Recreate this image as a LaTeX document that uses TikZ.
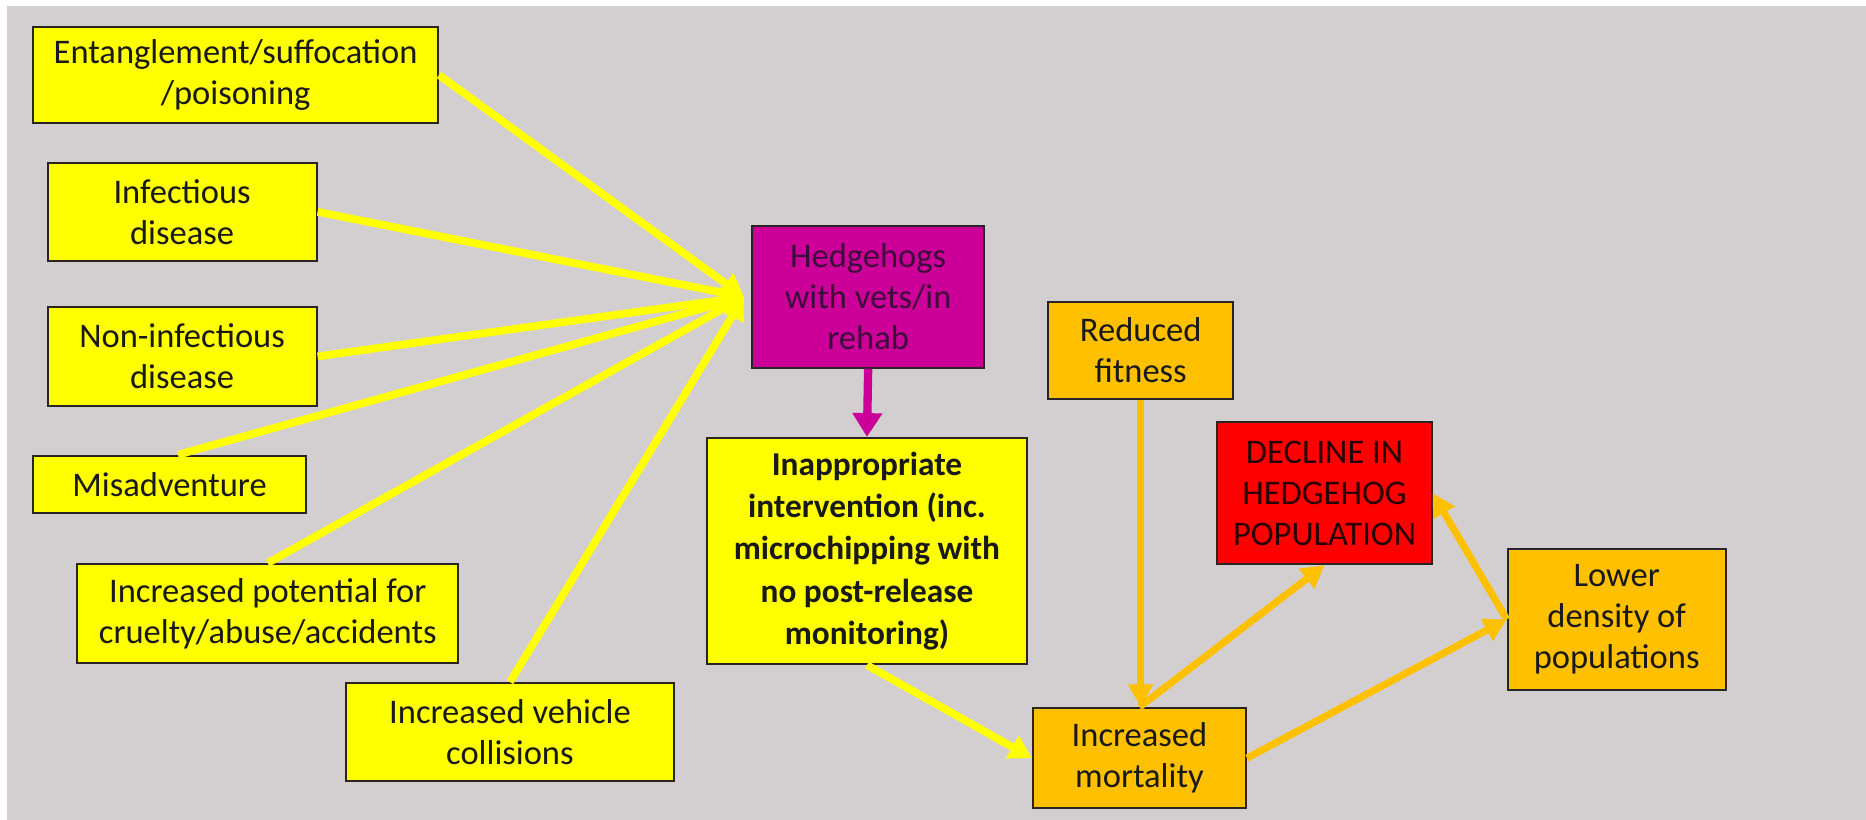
\documentclass[tikz,border=0pt]{standalone}
\usepackage{fontspec}
\setmainfont{Carlito}
\usetikzlibrary{arrows.meta}
\definecolor{bgcol}{RGB}{211,207,208}
\definecolor{cyel}{RGB}{255,255,0}
\definecolor{cgold}{RGB}{255,192,0}
\definecolor{cmag}{RGB}{204,0,153}
\definecolor{cred}{RGB}{255,0,0}
\definecolor{cedge}{RGB}{40,36,36}
\definecolor{cmagtext}{RGB}{62,12,58}
\definecolor{credtext}{RGB}{40,0,0}
\tikzset{
  box/.style={draw=cedge, line width=1.7pt, align=center, inner sep=0pt,
    font=\fontsize{29}{34.5}\selectfont, text=black!90},
  yelbox/.style={box, fill=cyel},
  goldbox/.style={box, fill=cgold},
  yelarrow/.style={draw=cyel, line width=6.5pt, -{Triangle[length=19pt,width=21pt]}},
  goldarrow/.style={draw=cgold, line width=6pt, -{Triangle[length=19pt,width=20pt]}},
  magarrow/.style={draw=cmag, line width=7pt, -{Triangle[length=20pt,width=24pt]}}
}
\begin{document}
\begin{tikzpicture}[x=1pt,y=-1pt]
  % canvas
  \useasboundingbox (0,0) rectangle (1568,689);
  \fill[bgcol] (6,5) rectangle (1568,689);

  % causes on the left
  \node[yelbox, minimum width=340, minimum height=80] (ent) at (198,63)
    {Entanglement/suffocation\\/poisoning};
  \node[yelbox, minimum width=226, minimum height=82] (inf) at (153,178)
    {Infectious\\disease};
  \node[yelbox, minimum width=226, minimum height=83] (noninf) at (153,299.5)
    {Non-infectious\\disease};
  \node[yelbox, minimum width=229, minimum height=48] (misadv) at (142.5,407)
    {Misadventure};
  \node[yelbox, minimum width=320, minimum height=83] (pot) at (225,515.5)
    {Increased potential for\\cruelty/abuse/accidents};
  \node[yelbox, minimum width=275, minimum height=82] (veh) at (428.5,615)
    {Increased vehicle\\collisions};

  % middle column
  \node[box, fill=cmag, text=cmagtext, minimum width=195, minimum height=119] (hh) at (729.5,249.5)
    {Hedgehogs\\with vets/in\\rehab};
  \node[yelbox, font=\fontsize{28}{35.5}\selectfont\bfseries, minimum width=269, minimum height=190] (inap) at (728.5,463)
    {Inappropriate\\intervention (inc.\\microchipping with\\no post-release\\monitoring)};

  % consequences
  \node[goldbox, minimum width=155, minimum height=81] (red) at (958.5,294.5)
    {Reduced\\fitness};
  \node[goldbox, minimum width=179, minimum height=84] (mort) at (957.5,637)
    {Increased\\mortality};
  \node[box, fill=cred, text=credtext, minimum width=180, minimum height=119] (dec) at (1113,414.5)
    {DECLINE IN\\HEDGEHOG\\POPULATION};
  \node[goldbox, minimum width=183, minimum height=119] (low) at (1358.5,520.5)
    {Lower\\density of\\populations};

  % causes feeding into rehab
  \draw[yelarrow] (ent.east) -- ([xshift=-6]hh.west);
  \draw[yelarrow] (inf.east) -- ([xshift=-6]hh.west);
  \draw[yelarrow] (noninf.east) -- ([xshift=-6]hh.west);
  \draw[yelarrow] ([xshift=7]misadv.north) -- ([xshift=-6]hh.west);
  \draw[yelarrow] (pot.north) -- ([xshift=-6]hh.west);
  \draw[yelarrow] (veh.north) -- ([xshift=-6]hh.west);

  % rehab to intervention to mortality
  \draw[magarrow] (hh.south) -- (inap.north);
  \draw[yelarrow] (inap.south) -- (mort.west);

  % mortality chain
  \draw[goldarrow] (red.south) -- (red.south |- mort.north);
  \draw[goldarrow] (mort.north) -- (dec.south);
  \draw[goldarrow] (mort.east) -- (low.west);
  \draw[goldarrow] (low.west) -- (dec.east);
\end{tikzpicture}
\end{document}
